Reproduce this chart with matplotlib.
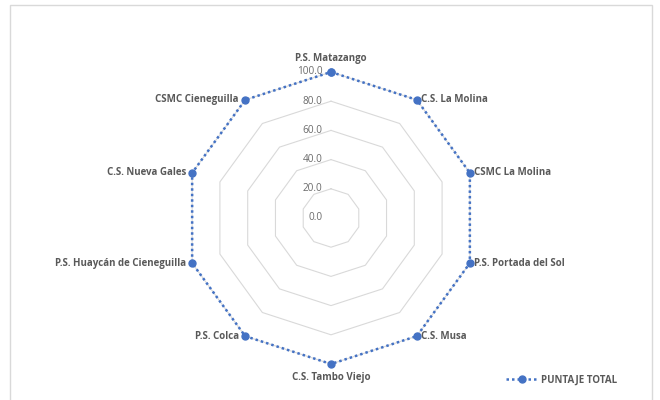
import numpy as np
import matplotlib
matplotlib.use("Agg")
import matplotlib.pyplot as plt
from matplotlib.patches import Rectangle

categories = ["P.S. Matazango", "C.S. La Molina", "CSMC La Molina", "P.S. Portada del Sol",
              "C.S. Musa", "C.S. Tambo Viejo", "P.S. Colca", "P.S. Huaycán de Cieneguilla",
              "C.S. Nueva Gales", "CSMC Cieneguilla"]
puntaje_total = [100.0, 100.0, 100.0, 100.0, 100.0, 100.0, 100.0, 100.0, 100.0, 100.0]
radial_ticks = [0, 20, 40, 60, 80, 100]
radial_labels = ["0.0", "20.0", "40.0", "60.0", "80.0", "100.0"]
series_name = "PUNTAJE TOTAL"

plt.rcParams['font.family'] = ['Open Sans', 'DejaVu Sans']
text_color = "#595959"
line_color = "#4472C4"
grid_color = "#D9D9D9"

fig = plt.figure(figsize=(6.6, 4.0), dpi=100)
fig.patches.append(Rectangle((10/660, -0.05), 642/660, 1.05 - 5/400, transform=fig.transFigure,
                             fill=False, edgecolor="#D9D9D9", linewidth=1.0))

ax = fig.add_axes([185/660, 36/400, 292/660, 292/400], projection="polar")
ax.set_theta_offset(np.pi / 2)
ax.set_theta_direction(-1)
ax.set_ylim(0, 100)
ax.grid(False)
ax.set_xticks([])
ax.set_yticks([])
ax.spines["polar"].set_visible(False)
ax.patch.set_alpha(0)

n = len(categories)
theta = np.arange(n) * 2 * np.pi / n
theta_closed = np.append(theta, theta[0])

for r in radial_ticks[1:]:
    ax.plot(theta_closed, [r] * (n + 1), color=grid_color, linewidth=0.8, zorder=1)

for r, lab in zip(radial_ticks, radial_labels):
    ax.annotate(lab, xy=(0, r), xytext=(-6, 0), textcoords="offset points",
                ha="right", va="center", fontsize=7.2, color="#6b6b6b", zorder=2)

vals_closed = puntaje_total + [puntaje_total[0]]
ax.plot(theta_closed, vals_closed, color=line_color, linewidth=1.8, linestyle=(0, (1, 1.2)),
        marker="o", markersize=5, label=series_name, zorder=3, clip_on=False)

for t, lab, v in zip(theta, categories, puntaje_total):
    s = np.sin(t)
    c = np.cos(t)
    if abs(s) < 0.1:
        off = (0, 6 if c > 0 else -6)
        ha = "center"
        va = "bottom" if c > 0 else "top"
    else:
        off = (3 if s > 0 else -4.5, 0)
        ha = "left" if s > 0 else "right"
        va = "center"
    ax.annotate(lab, xy=(t, v), xytext=off, textcoords="offset points",
                ha=ha, va=va, fontsize=7, fontweight="bold", color=text_color)

leg = fig.legend(loc="center", bbox_to_anchor=(562/660, 1 - 380/400), frameon=False,
                 fontsize=7, handlelength=3.2, handletextpad=0.4)
for t in leg.get_texts():
    t.set_color(text_color)
    t.set_fontweight("bold")

fig.savefig("out.png", dpi=100)
